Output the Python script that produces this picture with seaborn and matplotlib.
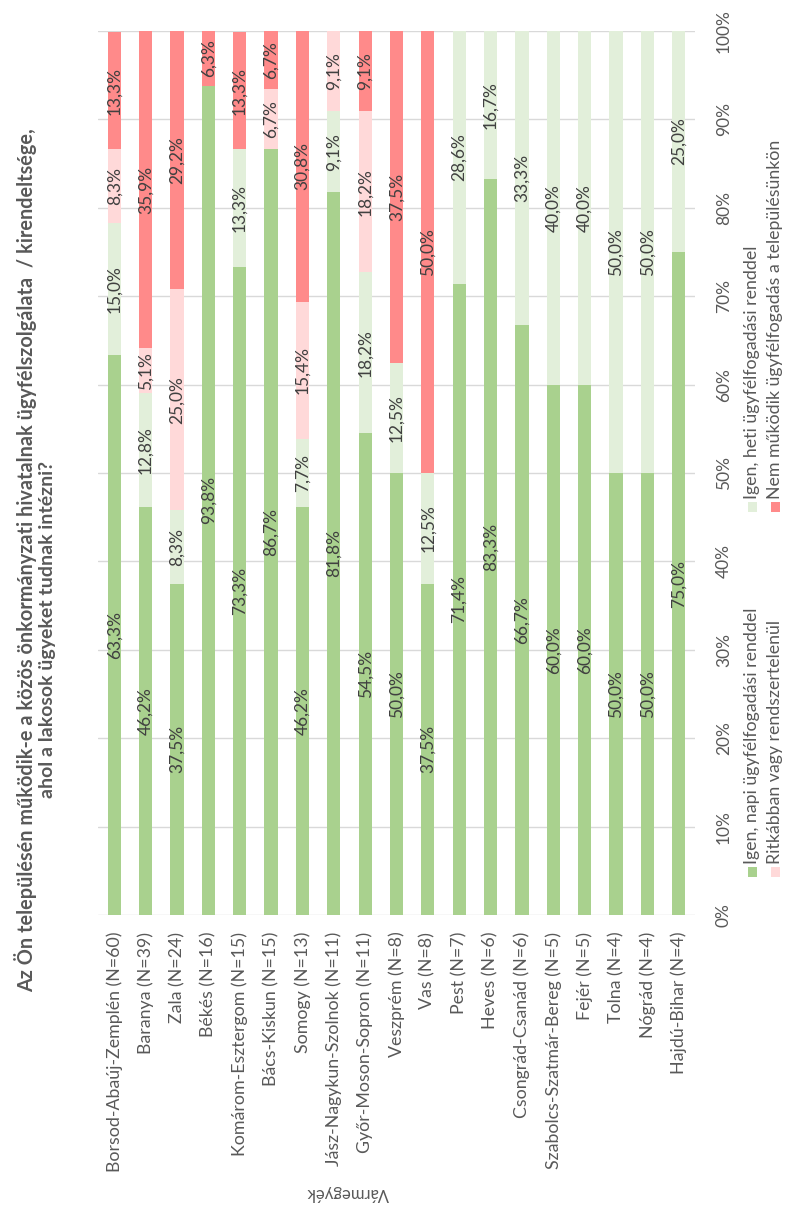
import numpy as np
import pandas as pd
import seaborn as sns
import matplotlib.pyplot as plt
from matplotlib.patches import Rectangle

megyek = ["Borsod-Abaúj-Zemplén (N=60)", "Baranya (N=39)", "Zala (N=24)", "Békés (N=16)",
          "Komárom-Esztergom (N=15)", "Bács-Kiskun (N=15)", "Somogy (N=13)",
          "Jász-Nagykun-Szolnok (N=11)", "Győr-Moson-Sopron (N=11)", "Veszprém (N=8)",
          "Vas (N=8)", "Pest (N=7)", "Heves (N=6)", "Csongrád-Csanád (N=6)",
          "Szabolcs-Szatmár-Bereg (N=5)", "Fejér (N=5)", "Tolna (N=4)", "Nógrád (N=4)",
          "Hajdú-Bihar (N=4)"]
napi = [63.3, 46.2, 37.5, 93.8, 73.3, 86.7, 46.2, 81.8, 54.5, 50.0, 37.5, 71.4, 83.3, 66.7, 60.0, 60.0, 50.0, 50.0, 75.0]
heti = [15.0, 12.8, 8.3, 0, 13.3, 0, 7.7, 9.1, 18.2, 12.5, 12.5, 28.6, 16.7, 33.3, 40.0, 40.0, 50.0, 50.0, 25.0]
ritkabban = [8.3, 5.1, 25.0, 0, 0, 6.7, 15.4, 9.1, 18.2, 0, 0, 0, 0, 0, 0, 0, 0, 0, 0]
nem = [13.3, 35.9, 29.2, 6.3, 13.3, 6.7, 30.8, 0, 9.1, 37.5, 50.0, 0, 0, 0, 0, 0, 0, 0, 0]

valaszok = ["Igen, napi ügyfélfogadási renddel", "Igen, heti ügyfélfogadási renddel",
            "Ritkábban vagy rendszertelenül", "Nem működik ügyfélfogadás a településünkön"]
szinek = ["#A9D18E", "#E2EFDA", "#FFD9D9", "#FF8A8A"]

title1 = "Az Ön településén működik-e a közös önkormányzati hivatalnak ügyfélszolgálata  / kirendeltsége,"
title2 = "ahol a lakosok ügyeket tudnak intézni?"

sns.set_style("white")
plt.rcParams['font.family'] = ['Lato', 'DejaVu Sans']

rows = []
for i, m in enumerate(megyek):
    for v, vals in zip(valaszok, [napi, heti, ritkabban, nem]):
        rows.append({"megye": m, "valasz": v, "pct": vals[i]})
df = pd.DataFrame(rows)

W, H = 789, 1207
fig = plt.figure(figsize=(W / 100, H / 100), dpi=100)
ax = fig.add_axes([98 / W, (H - 915) / H, (695 - 98) / W, (915 - 31) / H])

# last hue level ends up at the bottom of the stack
sns.histplot(data=df, x="megye", hue="valasz", weights="pct", multiple="stack",
             discrete=True, shrink=0.42, hue_order=valaszok[::-1],
             palette=dict(zip(valaszok, szinek)), alpha=1, linewidth=0,
             legend=False, ax=ax)

ax.set_xlim(-0.52, len(megyek) - 0.48)
ax.set_ylim(0, 100)
ax.set_yticks(np.arange(0, 101, 10))
ax.set_yticklabels([f"{t}%" for t in range(0, 101, 10)], rotation=90, va="center",
                   color="#595959", fontsize=12.5)
ax.yaxis.tick_right()
ax.tick_params(axis="y", length=0, pad=15)
ax.set_xticks(range(len(megyek)))
ax.set_xticklabels(megyek, rotation=90, ha="center", va="top", color="#595959", fontsize=12.8)
ax.tick_params(axis="x", length=0, pad=12)
ax.set_xlabel("")
ax.set_ylabel("")
ax.grid(axis="y", color="#D9D9D9", linewidth=1)
ax.set_axisbelow(True)
for s in ax.spines.values():
    s.set_visible(False)

# segment labels
for i in range(len(megyek)):
    alja = 0
    for vals in [napi, heti, ritkabban, nem]:
        v = vals[i]
        if v > 0:
            ax.text(i, alja + v / 2, f"{v:.1f}%".replace(".", ","), rotation=90,
                    ha="center", va="center", color="#404040", fontsize=12.5)
        alja += v

# title and axis title (the whole chart is turned on its side)
fig.text(26 / W, 1 - 560 / H, title1, rotation=90, ha="center", va="center",
         fontsize=14.3, fontweight="bold", color="#595959")
fig.text(48 / W, 1 - 630 / H, title2, rotation=90, ha="center", va="center",
         fontsize=14, fontweight="bold", color="#595959")
fig.text(348 / W, 1 - 1193 / H, "Vármegyék", rotation=180, ha="center", va="center",
         color="#595959", fontsize=12)

# legend, drawn by hand because it is rotated
leg = [(752, 872, 0), (752, 507, 1), (775, 872, 2), (775, 507, 3)]
for x, y, k in leg:
    fig.patches.append(Rectangle(((x - 4.5) / W, 1 - (y + 5) / H), 9 / W, 10 / H,
                                 transform=fig.transFigure, facecolor=szinek[k],
                                 edgecolor="none"))
    fig.text(x / W, 1 - (y - 8) / H, valaszok[k], rotation=90, ha="center", va="bottom",
             color="#595959", fontsize=12.8)

fig.savefig("out.png", dpi=100)
